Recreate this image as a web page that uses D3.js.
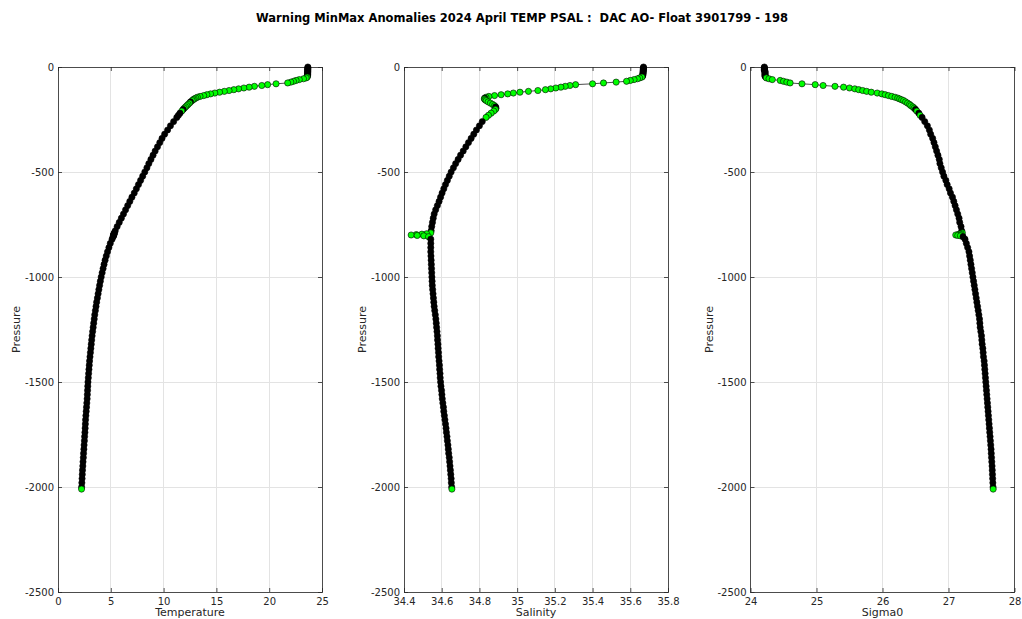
<!DOCTYPE html>
<html>
<head>
<meta charset="utf-8">
<script src="https://cdn.jsdelivr.net/npm/d3@7/dist/d3.min.js"></script>
<style>
  html, body { margin: 0; padding: 0; background: #ffffff; }
  svg { display: block; font-family: "DejaVu Sans", sans-serif; }
</style>
</head>
<body>
<svg id="chart" width="1022" height="619"></svg>
<script>
// ---------------- DATA ----------------
const TITLE = "Warning MinMax Anomalies 2024 April TEMP PSAL :  DAC AO- Float 3901799 - 198";

// pressure levels (dbar, positive down)
const PRES = [
  0,4,8,12,16,20,24,28,32,36,40,44,48,
  52,56,60,64,68,72,76,80,84,88,92,96,100,104,108,112,116,120,124,128,132,136,140,144,148,152,
  156,160,166,172,178,184,190,196,202,210,220,230,240,260,
  280,300,320,340,360,380,400,420,440,460,480,500,520,540,560,580,600,620,640,660,680,700,720,740,760,780,
  790,794,796,798,800,802,804,808,820,
  840,860,880,900,920,940,960,980,1000,1020,1040,1060,1080,1100,1120,1140,1160,1180,1200,1220,1240,1260,1280,1300,1320,1340,1360,
  1380,1400,1420,1440,1460,1480,1500,1520,1540,1560,1580,1600,1620,1640,1660,1680,1700,1720,1740,1760,1780,1800,1820,1840,1860,1880,1900,1920,1940,1960,1980,2000,2010
];

const TEMP = [
  23.66,23.66,23.66,23.65,23.65,23.65,23.65,23.64,23.64,23.64,23.63,23.62,23.60,
  23.50,23.25,22.85,22.55,22.30,22.05,21.75,20.65,19.85,19.30,18.60,18.10,17.60,17.10,16.65,16.20,15.75,15.30,14.85,14.45,14.10,13.80,13.45,13.20,13.05,12.90,
  12.80,12.70,12.55,12.45,12.32,12.20,12.08,11.96,11.85,11.72,11.55,11.40,11.25,10.95,
  10.65,10.38,10.10,9.85,9.64,9.42,9.20,9.00,8.80,8.60,8.42,8.22,8.02,7.82,7.62,7.42,7.22,7.00,6.80,6.60,6.40,6.20,6.00,5.80,5.60,5.42,
  5.34,5.31,5.30,5.28,5.27,5.26,5.25,5.22,5.12,
  4.95,4.82,4.69,4.57,4.46,4.36,4.27,4.18,4.09,4.01,3.94,3.87,3.80,3.73,3.66,3.60,3.54,3.48,3.43,3.38,3.33,3.28,3.23,3.19,3.15,3.11,3.07,
  3.03,2.99,2.96,2.93,2.90,2.87,2.84,2.82,2.80,2.78,2.76,2.73,2.70,2.67,2.64,2.61,2.59,2.57,2.55,2.52,2.50,2.47,2.45,2.42,2.40,2.37,2.35,2.32,2.30,2.28,2.26,2.24,2.23
];

const PSAL = [
  35.670,35.670,35.669,35.669,35.669,35.668,35.668,35.668,35.667,35.667,35.666,35.665,35.662,
  35.650,35.638,35.620,35.600,35.580,35.525,35.458,35.400,35.310,35.280,35.255,35.232,35.205,35.178,35.150,35.110,35.060,35.015,34.980,34.950,34.915,34.880,34.850,34.835,34.828,34.826,
  34.830,34.836,34.846,34.858,34.870,34.880,34.886,34.888,34.885,34.876,34.862,34.848,34.835,34.815,
  34.800,34.784,34.770,34.756,34.742,34.728,34.714,34.700,34.687,34.674,34.662,34.650,34.640,34.630,34.620,34.611,34.602,34.594,34.586,34.577,34.568,34.560,34.555,34.551,34.547,34.544,
  34.542,34.520,34.495,34.465,34.438,34.470,34.505,34.530,34.542,
  34.542,34.542,34.542,34.543,34.544,34.545,34.546,34.547,34.548,34.549,34.550,34.552,34.554,34.556,34.558,34.560,34.563,34.566,34.569,34.571,34.573,34.575,34.577,34.578,34.580,34.581,34.583,
  34.584,34.586,34.588,34.589,34.591,34.592,34.594,34.596,34.599,34.601,34.603,34.606,34.609,34.611,34.614,34.617,34.620,34.623,34.625,34.628,34.630,34.633,34.635,34.637,34.640,34.642,34.644,34.646,34.648,34.650,34.651,34.653,34.654
];

const SIGMA0 = [
  24.21,24.21,24.21,24.21,24.21,24.22,24.22,24.22,24.22,24.22,24.22,24.22,24.23,
  24.24,24.28,24.33,24.45,24.50,24.55,24.60,24.78,24.98,25.10,25.28,25.41,25.50,25.58,25.64,25.70,25.76,25.83,25.92,25.99,26.04,26.09,26.14,26.19,26.23,26.26,
  26.29,26.32,26.35,26.38,26.41,26.43,26.46,26.48,26.50,26.52,26.55,26.57,26.60,26.64,
  26.68,26.71,26.73,26.76,26.78,26.80,26.82,26.84,26.86,26.87,26.89,26.91,26.93,26.96,26.98,27.01,27.03,27.06,27.08,27.10,27.12,27.14,27.16,27.17,27.19,27.20,
  27.21,27.19,27.17,27.14,27.11,27.14,27.18,27.22,27.25,
  27.27,27.29,27.31,27.32,27.33,27.34,27.35,27.36,27.37,27.38,27.39,27.40,27.41,27.42,27.43,27.44,27.45,27.46,27.47,27.475,27.48,27.49,27.50,27.505,27.51,27.52,27.525,
  27.53,27.54,27.545,27.55,27.555,27.56,27.565,27.57,27.575,27.58,27.585,27.59,27.595,27.60,27.605,27.61,27.615,27.62,27.625,27.63,27.635,27.64,27.645,27.648,27.652,27.656,27.66,27.663,27.666,27.669,27.672,27.675,27.677
];

const TEMP_TICKS = [0, 5, 10, 15, 20, 25];
const PSAL_TICKS = [34.4, 34.6, 34.8, 35, 35.2, 35.4, 35.6, 35.8];
const SIGMA_TICKS = [24, 25, 26, 27, 28];
const PRES_TICKS = [0, -500, -1000, -1500, -2000, -2500];

const X_LABELS = ["Temperature", "Salinity", "Sigma0"];
const Y_LABEL = "Pressure";

// ---------------- LAYOUT ----------------
const svg = d3.select("#chart");
const TOP = 67, BOTTOM = 592, PW = 264;
const LEFTS = [58, 404, 750.5];
const TEXT_COL = "#262626";
const GRID_COL = "#e3e3e3";
const MARKER_FILL = "#00ff00";

svg.append("text")
  .attr("x", 522).attr("y", 22)
  .attr("text-anchor", "middle")
  .attr("font-size", 11.5).attr("font-weight", "bold")
  .attr("fill", "#000")
  .attr("xml:space", "preserve")
  .style("white-space", "pre")
  .text(TITLE);

const y = d3.scaleLinear().domain([0, -2500]).range([TOP, BOTTOM]);

const panels = [
  { vals: TEMP,   domain: [0, 25],     ticks: TEMP_TICKS,  label: X_LABELS[0] },
  { vals: PSAL,   domain: [34.4, 35.8], ticks: PSAL_TICKS, label: X_LABELS[1] },
  { vals: SIGMA0, domain: [24, 28],    ticks: SIGMA_TICKS, label: X_LABELS[2] }
];

panels.forEach((pn, k) => {
  const left = LEFTS[k];
  const x = d3.scaleLinear().domain(pn.domain).range([left, left + PW]);
  const g = svg.append("g");

  // grid
  g.selectAll(null).data(pn.ticks).join("line")
    .attr("x1", d => x(d)).attr("x2", d => x(d))
    .attr("y1", TOP).attr("y2", BOTTOM)
    .attr("stroke", GRID_COL).attr("stroke-width", 1).attr("shape-rendering", "crispEdges");
  g.selectAll(null).data(PRES_TICKS).join("line")
    .attr("x1", left).attr("x2", left + PW)
    .attr("y1", d => y(d)).attr("y2", d => y(d))
    .attr("stroke", GRID_COL).attr("stroke-width", 1).attr("shape-rendering", "crispEdges");

  // axes (inward ticks on all four sides)
  const fmt = d => String(d);
  const axB = g.append("g").attr("transform", `translate(0,${BOTTOM})`)
    .call(d3.axisBottom(x).tickValues(pn.ticks).tickFormat(fmt).tickSize(-4).tickPadding(6));
  const axT = g.append("g").attr("transform", `translate(0,${TOP})`)
    .call(d3.axisTop(x).tickValues(pn.ticks).tickFormat("").tickSize(-4));
  const axL = g.append("g").attr("transform", `translate(${left},0)`)
    .call(d3.axisLeft(y).tickValues(PRES_TICKS).tickFormat(fmt).tickSize(-4).tickPadding(4));
  const axR = g.append("g").attr("transform", `translate(${left + PW},0)`)
    .call(d3.axisRight(y).tickValues(PRES_TICKS).tickFormat("").tickSize(-4));
  [axB, axT, axL, axR].forEach(a => {
    a.select(".domain").remove();
    a.selectAll(".tick line").attr("stroke", TEXT_COL).attr("stroke-width", 0.8);
    a.selectAll(".tick text").attr("fill", TEXT_COL).attr("font-size", 10)
      .attr("font-family", "DejaVu Sans, sans-serif");
  });

  // frame
  g.append("rect")
    .attr("x", left).attr("y", TOP).attr("width", PW).attr("height", BOTTOM - TOP)
    .attr("fill", "none").attr("stroke", TEXT_COL).attr("stroke-width", 0.8)
    .attr("shape-rendering", "crispEdges");

  // axis labels
  g.append("text")
    .attr("x", left + PW / 2).attr("y", 616)
    .attr("text-anchor", "middle").attr("font-size", 11).attr("fill", TEXT_COL)
    .text(pn.label);
  g.append("text")
    .attr("transform", `translate(${left - 38},${(TOP + BOTTOM) / 2}) rotate(-90)`)
    .attr("text-anchor", "middle").attr("font-size", 11).attr("fill", TEXT_COL)
    .text(Y_LABEL);

  // profile
  const pts = PRES.map((p, i) => ({ px: x(pn.vals[i]), py: y(-p), p }));
  const line = d3.line().x(d => d.px).y(d => d.py);
  g.append("path").datum(pts)
    .attr("d", line).attr("fill", "none")
    .attr("stroke", "#000").attr("stroke-width", 0.7);

  // markers: where consecutive samples crowd together the later black edges
  // hide the fill, so crowded markers appear black
  g.selectAll(null).data(pts).join("circle")
    .attr("cx", d => d.px).attr("cy", d => d.py)
    .attr("r", 3.1)
    .attr("stroke", "#000").attr("stroke-width", 0.6)
    .attr("fill", (d, i) => {
      if (i === pts.length - 1) return MARKER_FILL;
      const n = pts[i + 1];
      const dist = Math.hypot(n.px - d.px, n.py - d.py);
      const per2 = dist / ((n.p - d.p) / 2);
      return per2 > 0.55 ? MARKER_FILL : "#000";
    });
});
</script>
</body>
</html>
